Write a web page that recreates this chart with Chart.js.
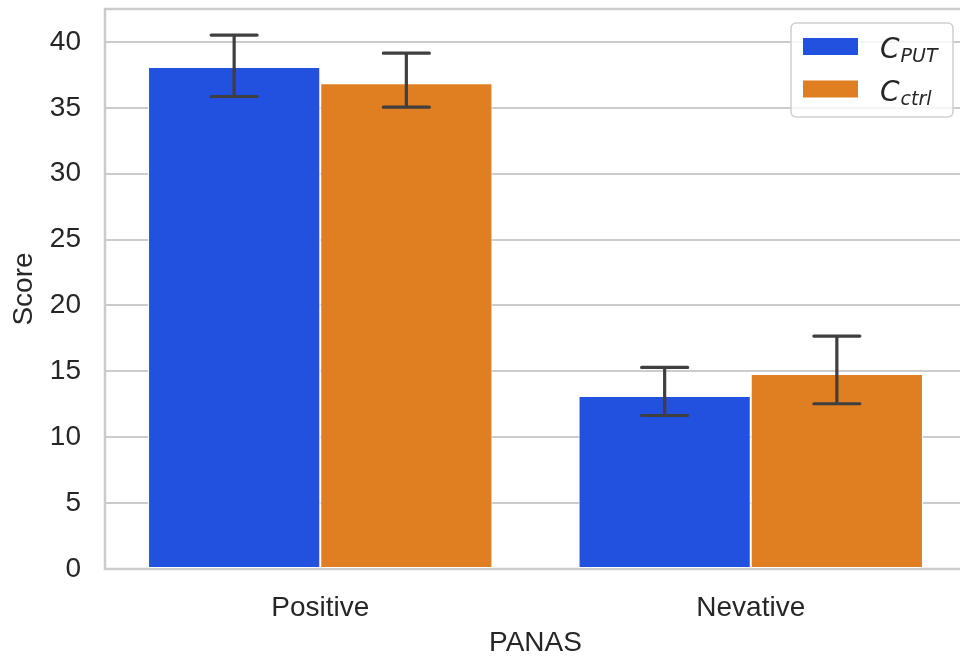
<!DOCTYPE html>
<html>
<head>
<meta charset="utf-8">
<script src="https://cdn.jsdelivr.net/npm/chart.js@4.4.0/dist/chart.umd.min.js"></script>
<style>
  html, body { margin: 0; padding: 0; overflow: hidden; background: #fff; }
  #wrap { width: 968px; height: 657px; }
</style>
</head>
<body>
<div id="wrap"><canvas id="myChart" width="968" height="657"></canvas></div>
<script>
// data
const categories = ['Positive', 'Nevative'];
const putMean = [38.1, 13.13];
const putLow = [35.86, 11.65];
const putHigh = [40.52, 15.3];
const ctrlMean = [36.87, 14.8];
const ctrlLow = [35.05, 12.54];
const ctrlHigh = [39.15, 17.68];
const yTicks = [0, 5, 10, 15, 20, 25, 30, 35, 40];

const textColor = '#262626';
const gridColor = '#cccccc';
const axisFont = '"Liberation Sans", Arial, sans-serif';

// error bars drawn through the scales
const errorBars = {
    id: 'errorBars',
    afterDatasetsDraw(chart) {
        const ctx = chart.ctx;
        const y = chart.scales.y;
        ctx.save();
        ctx.strokeStyle = '#3f3f3f';
        ctx.lineWidth = 3.2;
        ctx.lineCap = 'round';
        chart.data.datasets.forEach(function(ds, di) {
            const meta = chart.getDatasetMeta(di);
            meta.data.forEach(function(bar, i) {
                const x = bar.x;
                const top = y.getPixelForValue(ds.errHigh[i]);
                const bot = y.getPixelForValue(ds.errLow[i]);
                const cap = 23;
                ctx.beginPath();
                ctx.moveTo(x, top); ctx.lineTo(x, bot);
                ctx.moveTo(x - cap, top); ctx.lineTo(x + cap, top);
                ctx.moveTo(x - cap, bot); ctx.lineTo(x + cap, bot);
                ctx.stroke();
            });
        });
        ctx.restore();
    }
};

// frame around plot + legend with subscripts
const frameAndLegend = {
    id: 'frameAndLegend',
    beforeDatasetsDraw(chart) {
        const a = chart.chartArea;
        const ctx = chart.ctx;
        ctx.save();
        ctx.strokeStyle = gridColor;
        ctx.lineWidth = 2.5;
        ctx.strokeRect(a.left, a.top, a.right - a.left, a.bottom - a.top);
        ctx.restore();
    },
    afterDraw(chart) {
        const ctx = chart.ctx;
        ctx.save();
        // legend box
        const bx = 791, by = 23, bw = 162, bh = 94;
        ctx.fillStyle = 'rgba(255,255,255,0.8)';
        ctx.strokeStyle = '#d0d0d0';
        ctx.lineWidth = 1.5;
        ctx.beginPath();
        ctx.roundRect(bx, by, bw, bh, 5);
        ctx.fill();
        ctx.stroke();
        const subs = ['PUT', 'ctrl'];
        chart.data.datasets.forEach(function(ds, i) {
            const top = 38 + i * 42.5;
            ctx.fillStyle = ds.backgroundColor;
            ctx.fillRect(803, top, 55, 17);
            ctx.fillStyle = textColor;
            ctx.textBaseline = 'alphabetic';
            ctx.font = 'italic 28px "DejaVu Sans"';
            ctx.fillText('C', 880, top + 20);
            const w = ctx.measureText('C').width;
            ctx.font = 'italic 19px "DejaVu Sans"';
            ctx.fillText(subs[i], 880 + w + 1, top + 24);
        });
        ctx.restore();
    }
};

const ctx = document.getElementById('myChart').getContext('2d');
const myChart = new Chart(ctx, {
    type: 'bar',
    data: {
        labels: categories,
        datasets: [{
            label: 'C_PUT',
            data: putMean,
            errLow: putLow,
            errHigh: putHigh,
            backgroundColor: '#2251e0',
            borderColor: '#ffffff',
            borderWidth: 1,
            borderSkipped: false
        }, {
            label: 'C_ctrl',
            data: ctrlMean,
            errLow: ctrlLow,
            errHigh: ctrlHigh,
            backgroundColor: '#e07f21',
            borderColor: '#ffffff',
            borderWidth: 1,
            borderSkipped: false
        }]
    },
    options: {
        responsive: false,
        animation: false,
        categoryPercentage: 0.8,
        barPercentage: 1.0,
        layout: { padding: { top: 9, right: 2, left: 0, bottom: 0 } },
        plugins: {
            legend: { display: false },
            tooltip: { enabled: false }
        },
        scales: {
            x: {
                grid: { display: false, drawTicks: false },
                border: { display: false },
                ticks: {
                    color: textColor,
                    padding: 22,
                    font: { size: 28, family: axisFont }
                },
                title: {
                    display: true,
                    text: 'PANAS',
                    color: textColor,
                    padding: { top: 0, bottom: -3 },
                    font: { size: 28, family: axisFont }
                },
                afterFit(scale) {
                    scale.height = 88;
                    scale.paddingLeft = 0; scale.paddingRight = 0;
                }
            },
            y: {
                min: 0,
                max: 42.5,
                afterBuildTicks(scale) {
                    scale.ticks = yTicks.map(function(v) { return { value: v }; });
                },
                grid: { color: gridColor, lineWidth: 2, drawTicks: false },
                border: { display: false },
                ticks: {
                    color: textColor,
                    padding: 24,
                    font: { size: 28, family: axisFont }
                },
                title: {
                    display: true,
                    text: 'Score',
                    color: textColor,
                    padding: { top: 7, bottom: 0 },
                    font: { size: 28, family: axisFont }
                },
                afterFit(scale) {
                    scale.width = 105;
                    scale.paddingTop = 0; scale.paddingBottom = 0;
                }
            }
        }
    },
    plugins: [errorBars, frameAndLegend]
});
</script>
</body>
</html>
